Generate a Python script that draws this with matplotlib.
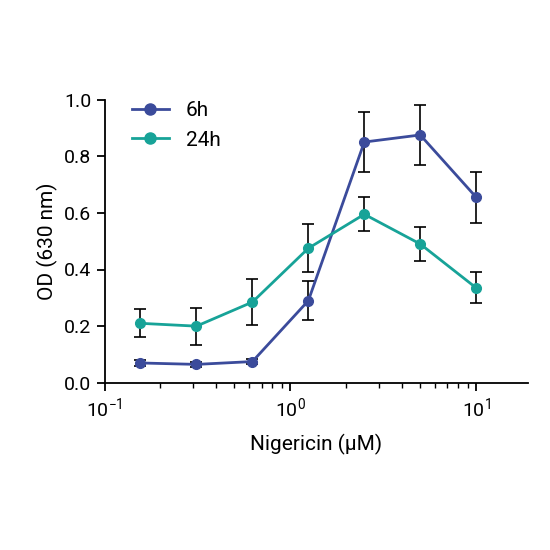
import numpy as np
import matplotlib
matplotlib.use("Agg")
import matplotlib.pyplot as plt
from matplotlib.lines import Line2D
from matplotlib.ticker import LogLocator, NullFormatter

plt.rcParams['font.family'] = ['Roboto', 'DejaVu Sans']

conc = [0.156, 0.3125, 0.625, 1.25, 2.5, 5, 10]
od_6h = [0.07, 0.065, 0.075, 0.29, 0.85, 0.875, 0.655]
err_6h = [0.01, 0.01, 0.01, 0.07, 0.105, 0.105, 0.09]
od_24h = [0.21, 0.20, 0.285, 0.475, 0.595, 0.49, 0.335]
err_24h = [0.05, 0.065, 0.08, 0.085, 0.06, 0.06, 0.055]

fig = plt.figure(figsize=(5.5, 5.5), dpi=100)
ax = fig.add_axes([0.19, 0.304, 0.77, 0.515])

handles = []
for y, e, c, lab in [(od_6h, err_6h, '#3b4b9b', '6h'), (od_24h, err_24h, '#17a398', '24h')]:
    ax.errorbar(conc, y, yerr=e, color=c, ecolor='black', elinewidth=1.2,
                capsize=4, capthick=1.2, lw=2, marker='o', ms=7)
    handles.append(Line2D([], [], color=c, lw=2, marker='o', ms=8, label=lab))

ax.set_xscale('log')
ax.set_xlim(0.1, 19)
ax.set_ylim(0, 1.0)
ax.set_yticks(np.arange(0, 1.01, 0.2))
ax.set_yticklabels(['0.0', '0.2', '0.4', '0.6', '0.8', '1.0'])
ax.xaxis.set_minor_locator(LogLocator(subs=np.arange(2, 10)))
ax.xaxis.set_minor_formatter(NullFormatter())
ax.spines['top'].set_visible(False)
ax.spines['right'].set_visible(False)
for s in ['left', 'bottom']:
    ax.spines[s].set_linewidth(1.3)
ax.tick_params(labelsize=14, width=1.3, length=6)
ax.tick_params(which='minor', width=1, length=3.5)
ax.set_xlabel('Nigericin (µM)', fontsize=15, labelpad=10)
ax.set_ylabel('OD (630 nm)', fontsize=15)
ax.legend(handles=handles, loc='upper left', frameon=False, fontsize=15,
          handlelength=1.8, bbox_to_anchor=(0.02, 1.06))

fig.savefig('out.png', dpi=100)
